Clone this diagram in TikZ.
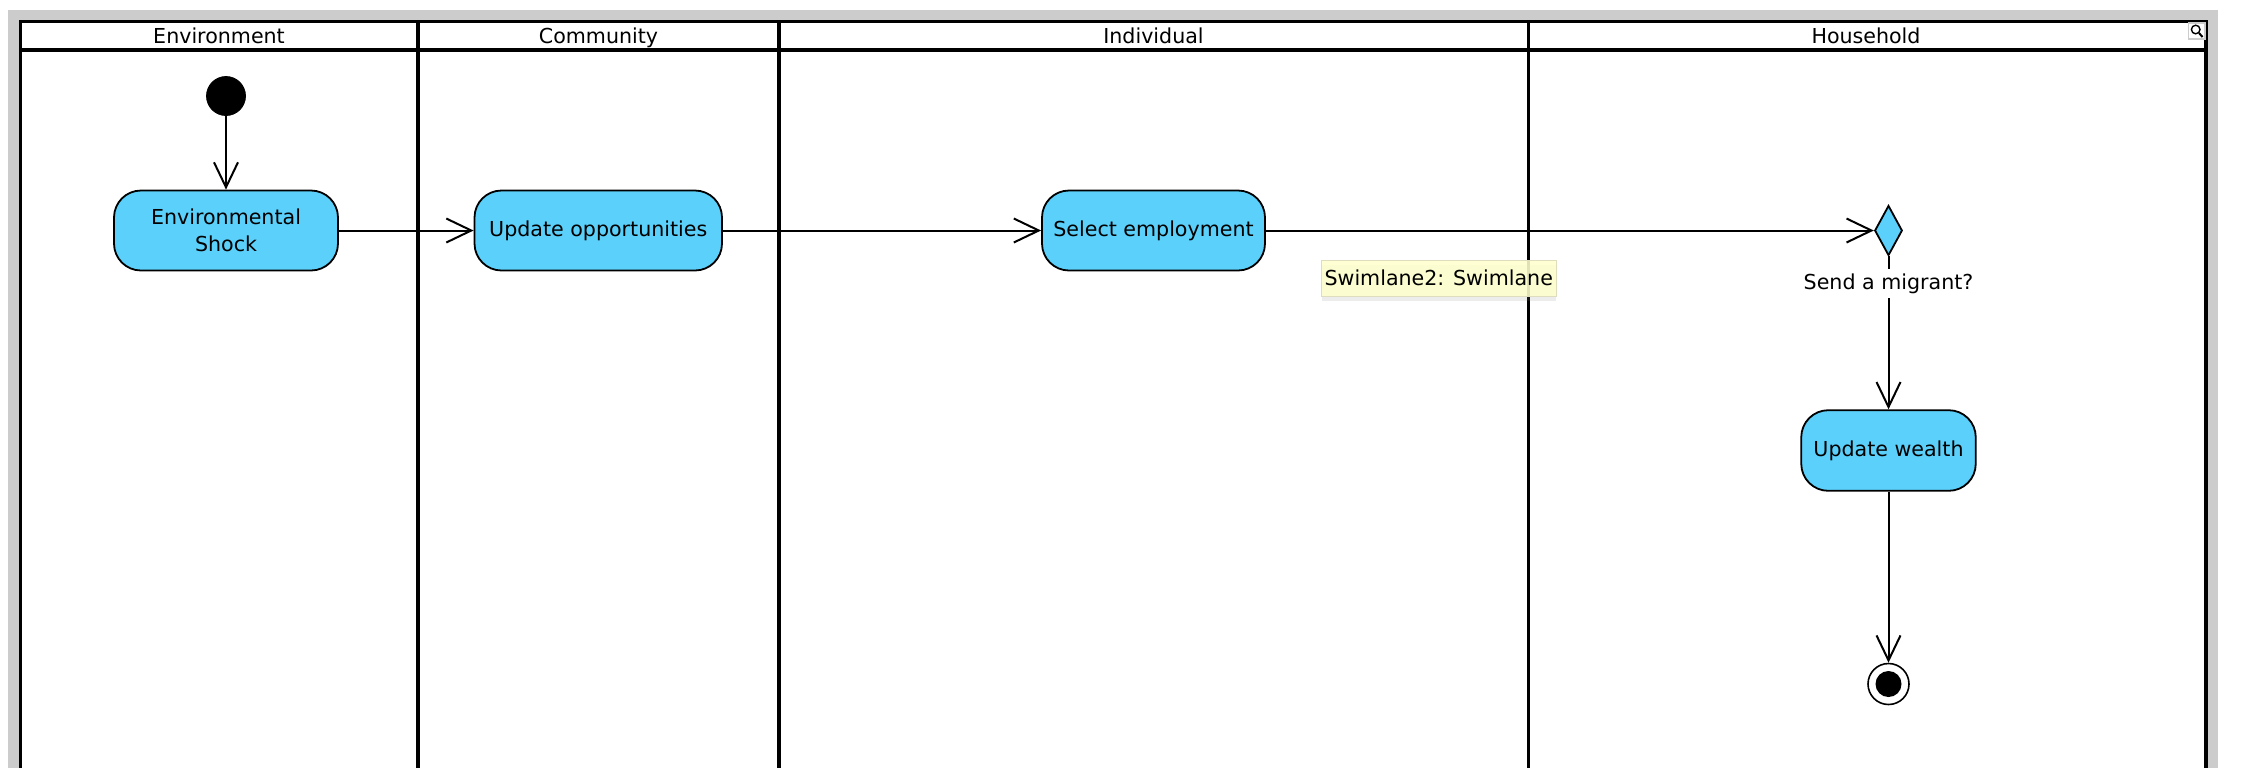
\documentclass[tikz,border=0pt]{standalone}
\usepackage{fontspec}
\setmainfont{DejaVu Sans}
\usetikzlibrary{arrows.meta,shapes.geometric,shadows}
\definecolor{actblue}{RGB}{91,208,250}
\definecolor{framegray}{RGB}{204,204,204}
\definecolor{tipyellow}{RGB}{255,255,206}
\definecolor{tipborder}{RGB}{222,222,190}
\begin{document}
\begin{tikzpicture}[x=0.5pt,y=-0.5pt,
  every node/.style={font=\fontsize{10.3pt}{13.3pt}\selectfont},
  lane/.style={line width=1.75pt,black},
  action/.style={draw=black,line width=0.9pt,fill=actblue,rounded corners=13.5pt,
     minimum height=40pt,inner sep=0pt,align=center},
  startnode/.style={circle,fill=black,draw=black,minimum size=19.5pt,inner sep=0pt},
  endnode/.style={circle,draw=black,fill=white,line width=0.8pt,minimum size=20.5pt,inner sep=0pt},
  decision/.style={diamond,draw=black,line width=0.9pt,fill=actblue,minimum width=13.8pt,
     minimum height=25pt,inner sep=0pt},
  flow/.style={line width=1pt,-{Straight Barb[length=12.5pt,width=12pt,line width=1pt]}},
  header/.style={anchor=base,inner sep=0pt},
  tooltip/.style={draw=tipborder,line width=0.4pt,fill=tipyellow,fill opacity=0.88,text opacity=1,
     minimum width=117.25pt,minimum height=18pt,inner sep=0pt,
     drop shadow={opacity=0.15,shadow xshift=0pt,shadow yshift=-2.5pt}},
  guardlabel/.style={fill=white,inner xsep=1pt,inner ysep=0pt,minimum height=14.5pt}
]
\useasboundingbox (0,0) rectangle (2244,768);
% frame background
\fill[framegray] (7.7,10) rectangle (2217.6,768);
\fill[white] (20.4,21.7) rectangle (2206,768);
% swimlanes
\draw[lane] (20.4,768) -- (20.4,21.7) -- (2206,21.7) -- (2206,768);
\draw[lane] (20.4,50) -- (2206,50);
\draw[lane] (418,21.7) -- (418,768);
\draw[lane] (779,21.7) -- (779,768);
\draw[lane] (1528.5,21.7) -- (1528.5,768);
% lane headers
\node[header] (hEnv) at (219,43.5) {Environment};
\node[header] (hCom) at (598.5,43.5) {Community};
\node[header] (hInd) at (1153.5,43.5) {Individual};
\node[header] (hHou) at (1866,43.5) {Household};
% magnifier icon
\draw[fill=white,draw=framegray,line width=0.6pt] (2188.5,23) rectangle (2205,39);
\draw[line width=0.7pt] (2195.7,29.5) circle[radius=4.3];
\draw[line width=1pt] (2199,33) -- (2202.5,37);
% nodes
\node[startnode] (start) at (226,96) {};
\node[action,minimum width=112pt] (env) at (226,230.5) {Environmental\\Shock};
\node[action,minimum width=123.75pt] (opp) at (598.25,230.5) {Update opportunities};
\node[action,minimum width=111.5pt] (sel) at (1153.5,230.5) {Select employment};
\node[decision] (dec) at (1888.5,230.5) {};
\node[action,minimum width=87.25pt,minimum height=40.3pt] (wealth) at (1888.5,450.5) {Update wealth};
\node[endnode] (final) at (1888.5,684) {};
\fill[black] (final.center) circle[radius=6.5pt];
% connectors
\draw[flow] (start) -- (env);
\draw[flow] (env) -- (opp);
\draw[flow] (opp) -- (sel);
\draw[flow] (sel) -- (dec);
\draw[flow] (dec) -- (wealth);
\draw[flow] (wealth) -- (final);
\node[guardlabel] (guard) at (1888.5,283.5) {Send a migrant?};
% tooltip
\node[tooltip] (tip) at (1438.75,278) {Swimlane2: Swimlane};
\end{tikzpicture}
\end{document}
